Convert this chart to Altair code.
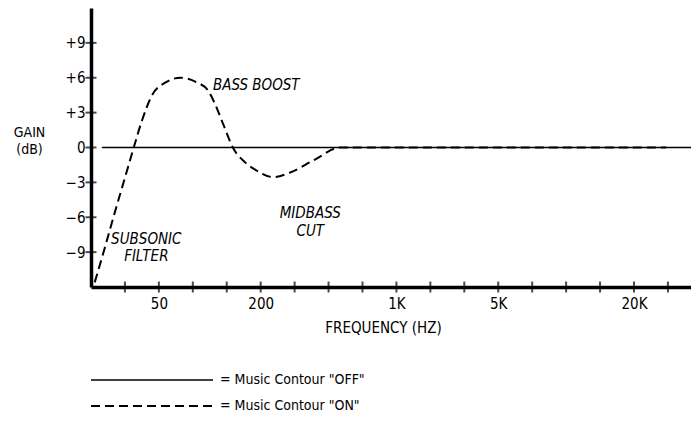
import altair as alt
import pandas as pd

FONT = "Liberation Sans Narrow, DejaVu Sans Condensed, Liberation Sans, sans-serif"

# Schematic frequency axis: positions are counted in tick steps from the first tick
tick_positions = list(range(0, 17))
freq_label_pos = [1, 4, 8, 11, 15]
freq_labels = ["50", "200", "1K", "5K", "20K"]

gain_ticks = [-9, -6, -3, 0, 3, 6, 9]
gain_labels = ["\u22129", "\u22126", "\u22123", "0", "+3", "+6", "+9"]

x_domain = [-1, 16.68]
y_domain = [-12, 12]

# Music Contour "OFF" (flat response)
off_pos = [-0.68, 16.68]
off_gain = [0.0, 0.0]

# Music Contour "ON"
on_pos = [-0.89, -0.6, -0.3, 0.0, 0.26, 0.5, 0.8, 1.2, 1.63, 2.12, 2.45,
          2.63, 2.91, 3.18, 3.55, 3.89, 4.38, 4.87, 5.56, 6.35, 15.95]
on_gain = [-11.6, -8.7, -5.6, -2.6, 0.0, 2.3, 4.5, 5.6, 6.0, 5.6, 4.9,
           3.9, 1.9, 0.0, -1.3, -2.0, -2.55, -2.15, -1.1, 0.0, 0.0]

ann_text = ["BASS BOOST", "MIDBASS", "CUT", "SUBSONIC", "FILTER"]
ann_pos = [3.87, 5.46, 5.46, 0.63, 0.63]
ann_gain = [5.37, -5.66, -7.2, -7.9, -9.37]

series_domain = ["OFF", "ON"]
series_labels = ["= Music Contour \"OFF\"", "= Music Contour \"ON\""]


def label_expr(values, labels, quote=True):
    expr = "''"
    for v, l in reversed(list(zip(values, labels))):
        expr = f"datum.{'value' if quote else 'label'} == {v if quote else repr(v)} ? '{l}' : ({expr})"
    return expr


curves = pd.concat([
    pd.DataFrame({"pos": off_pos, "gain": off_gain, "series": "OFF"}),
    pd.DataFrame({"pos": on_pos, "gain": on_gain, "series": "ON"}),
])
ann = pd.DataFrame({"pos": ann_pos, "gain": ann_gain, "text": ann_text})
ytick_df = pd.DataFrame({"pos": x_domain[0], "gain": gain_ticks})
xtick_df = pd.DataFrame({"pos": tick_positions, "gain": y_domain[0]})

xs = alt.Scale(domain=x_domain, nice=False, zero=False)
ys = alt.Scale(domain=y_domain, nice=False, zero=False)

x_axis = alt.Axis(
    values=freq_label_pos, labelExpr=label_expr(freq_label_pos, freq_labels),
    ticks=False, grid=False, domainWidth=3.5, domainColor="black",
    labelPadding=9, labelFont=FONT, labelFontSize=15, labelColor="black",
    labelFlush=False,
    title="FREQUENCY (HZ)", titleFont=FONT, titleFontSize=15, titleFontWeight="normal",
    titleColor="black", titleX=292, titleY=40, titleBaseline="middle",
)
y_axis = alt.Axis(
    values=gain_ticks, labelExpr=label_expr(gain_ticks, gain_labels),
    ticks=False, grid=False, domainWidth=3.5, domainColor="black",
    labelPadding=6, labelFont=FONT, labelFontSize=15, labelColor="black",
    labelFlush=False,
    title=["GAIN", "(dB)"], titleFont=FONT, titleFontSize=14, titleFontWeight="normal",
    titleColor="black", titleAngle=0, titleAlign="center", titleBaseline="alphabetic",
    titleX=-62, titleY=128, titleLineHeight=17,
)

X = alt.X("pos:Q", scale=xs, axis=x_axis)
Y = alt.Y("gain:Q", scale=ys, axis=y_axis)

lines = alt.Chart(curves).mark_line(color="black", interpolate="monotone").encode(
    x=X, y=Y,
    strokeDash=alt.StrokeDash(
        "series:N",
        scale=alt.Scale(domain=series_domain, range=[[1, 0], [9, 5]]),
        legend=alt.Legend(
            orient="none", legendX=-1, legendY=364, title=None,
            symbolType="stroke", symbolSize=14884, symbolStrokeWidth=1.6,
            symbolStrokeColor="black", clipHeight=16, rowPadding=10,
            labelOffset=6, labelFont=FONT, labelFontSize=14, labelColor="black",
            labelLimit=400, padding=0,
            labelExpr=label_expr(series_domain, series_labels, quote=False),
        ),
    ),
    strokeWidth=alt.StrokeWidth(
        "series:N", scale=alt.Scale(domain=series_domain, range=[1.3, 2.0]), legend=None
    ),
)

yticks = alt.Chart(ytick_df).mark_tick(
    orient="horizontal", size=11, thickness=2, color="black"
).encode(x=X, y=Y)
xticks = alt.Chart(xtick_df).mark_tick(
    orient="vertical", size=11, thickness=2, color="black"
).encode(x=X, y=Y)

labels = alt.Chart(ann).mark_text(
    font=FONT, fontSize=15, fontStyle="italic", color="black",
    align="center", baseline="middle",
).encode(x=X, y=Y, text="text:N")

chart = alt.layer(lines, yticks, xticks, labels).properties(
    width=600, height=279,
    autosize=alt.AutoSizeParams(type="none"),
    padding={"left": 83, "top": 0, "right": 0, "bottom": 138},
    background="white",
).configure_view(stroke=None)

chart.save("out.html", embed_options={"renderer": "svg", "actions": False})
